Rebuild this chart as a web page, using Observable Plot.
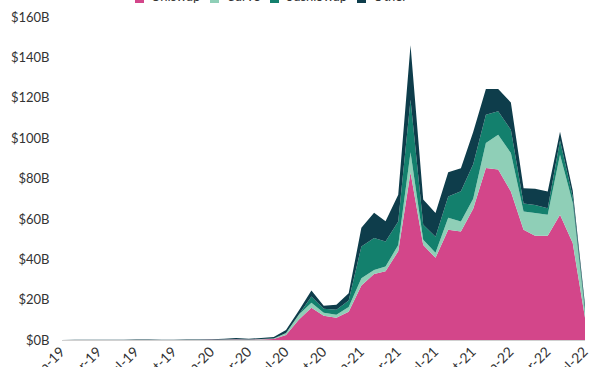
<!DOCTYPE html>
<html>
<head>
<meta charset="utf-8">
<script src="https://cdn.jsdelivr.net/npm/d3@7"></script>
<script src="https://cdn.jsdelivr.net/npm/@observablehq/plot@0.6"></script>
<style>
  html, body { margin: 0; padding: 0; background: #fff; overflow: hidden; }
  #wrap { position: relative; width: 600px; height: 367px; overflow: hidden; }
  #legend { position: absolute; left: 135px; top: -10px; display: flex; align-items: center;
            font-family: Lato, "Open Sans", sans-serif; font-size: 13px; line-height: 13px; color: #333; white-space: nowrap; }
  #legend .item { display: flex; align-items: center; margin-right: 10px; }
  #legend .sw { width: 9px; height: 9px; margin-right: 7px; position: relative; top: 2px; }
</style>
</head>
<body>
<div id="wrap">
  <div id="chart"></div>
  <div id="legend"></div>
</div>
<script>
const months = [
  "2019-01","2019-02","2019-03","2019-04","2019-05","2019-06","2019-07","2019-08","2019-09","2019-10","2019-11","2019-12",
  "2020-01","2020-02","2020-03","2020-04","2020-05","2020-06","2020-07","2020-08","2020-09","2020-10","2020-11","2020-12",
  "2021-01","2021-02","2021-03","2021-04","2021-05","2021-06","2021-07","2021-08","2021-09","2021-10","2021-11","2021-12",
  "2022-01","2022-02","2022-03","2022-04","2022-05","2022-06","2022-07"
];
const uniswap = [
  0.01,0.01,0.02,0.02,0.03,0.05,0.06,0.06,0.05,0.05,0.06,0.06,
  0.08,0.15,0.2,0.15,0.3,0.5,2.5,10,16,12,11,14,
  27,32.7,34,44,83,47,40.7,54.6,53.7,65,85.2,84.4,
  73.6,54.6,51.6,51.6,62,48,11
];
const curve = [
  0,0,0,0,0,0,0,0,0,0,0,0,
  0.05,0.1,0.2,0.1,0.15,0.3,1,2.5,2.5,1.5,1.5,2.3,
  3.6,2,2.4,3,10,2.6,2.5,6,5,5,12.4,17.3,
  19,9,11.3,10.4,29.8,20,3
];
const sushiswap = [
  0,0,0,0,0,0,0,0,0,0,0,0,
  0,0,0,0,0,0,0,0,3,2,2.5,3.3,
  15.7,15.8,12.4,11.7,26,7.5,8,10.5,15,17,14,11.6,
  11.5,4,4,3.3,7,3,1.5
];
const other = [
  0.05,0.06,0.08,0.1,0.1,0.12,0.15,0.15,0.12,0.12,0.15,0.15,
  0.3,0.4,0.6,0.4,0.5,0.7,1.5,2,3,1.5,2.5,3.5,
  9.3,12.5,10,13.3,27,12.5,11.7,12,11.4,16,12.7,11,
  13.6,7.6,8,8.3,4.4,3,2
];
const seriesNames = ["Uniswap","Curve","SushiSwap","Other"];
const seriesColors = ["#d3468a","#8fcfb7","#13806d","#0e3d4b"];
const xTicks = [
  "2019-01","2019-04","2019-07","2019-10",
  "2020-01","2020-04","2020-07","2020-10",
  "2021-01","2021-04","2021-07","2021-10",
  "2022-01","2022-04","2022-07"
];
const yTicks = [0,20,40,60,80,100,120,140,160];

const seriesValues = [uniswap, curve, sushiswap, other];
const table = [];
seriesNames.forEach((name, si) => {
  months.forEach((m, i) => {
    table.push({date: new Date(m + "-01"), series: name, value: seriesValues[si][i]});
  });
});
const fmt = d3.utcFormat("%b-%y");

const chart = Plot.plot({
  width: 600,
  height: 367,
  marginTop: 17,
  marginBottom: 27,
  marginLeft: 62,
  marginRight: 15,
  style: {fontFamily: "Lato, 'Open Sans', sans-serif", color: "#333", background: "#fff"},
  x: {type: "utc", domain: [new Date("2019-01-01"), new Date("2022-07-01")]},
  y: {domain: [0, 160]},
  color: {domain: seriesNames, range: seriesColors},
  marks: [
    Plot.ruleY([0], {stroke: "#d0d0d0", strokeWidth: 1}),
    Plot.areaY(table, {x: "date", y: "value", z: "series", fill: "series", order: seriesNames}),
    Plot.axisY({ticks: yTicks, tickFormat: d => `$${d}B`, tickSize: 0, tickPadding: 13, fontSize: 13, label: null}),
    Plot.axisX({ticks: xTicks.map(s => new Date(s + "-01")), tickFormat: fmt, tickSize: 0, tickPadding: 9, tickRotate: -45, fontSize: 14, label: null})
  ]
});
document.getElementById("chart").appendChild(chart);

const legend = document.getElementById("legend");
seriesNames.forEach((n, i) => {
  const item = document.createElement("div");
  item.className = "item";
  const sw = document.createElement("div");
  sw.className = "sw";
  sw.style.background = seriesColors[i];
  const t = document.createElement("span");
  t.textContent = n;
  item.appendChild(sw);
  item.appendChild(t);
  legend.appendChild(item);
});
</script>
</body>
</html>
